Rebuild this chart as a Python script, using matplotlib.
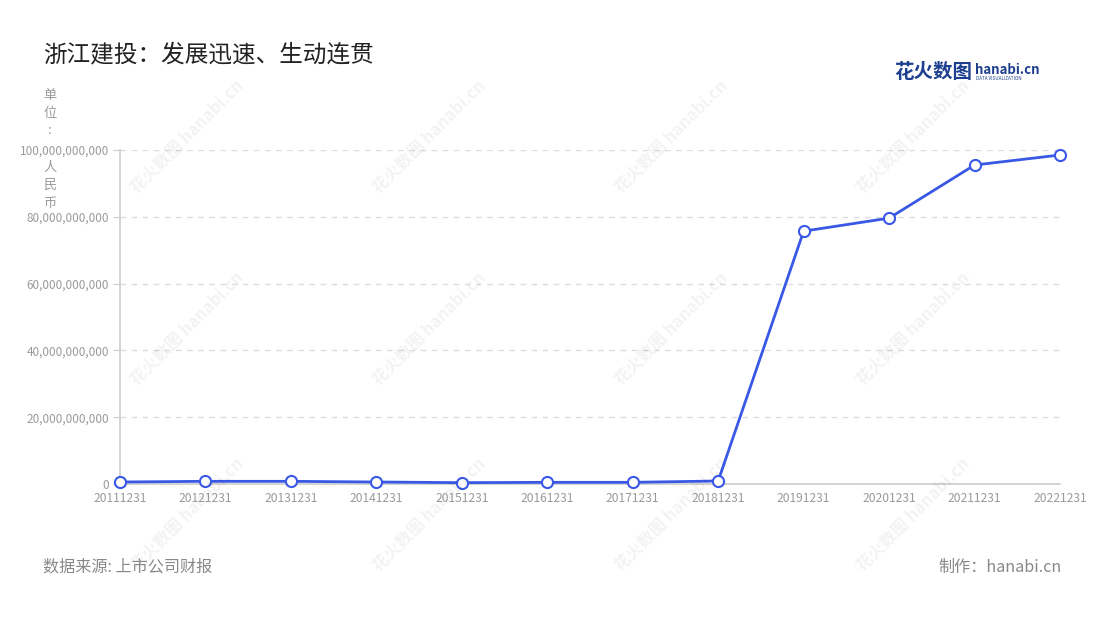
import matplotlib.pyplot as plt
from matplotlib.ticker import FuncFormatter

plt.rcParams['font.family'] = ['Noto Sans CJK SC', 'DejaVu Sans']

dates = ['20111231', '20121231', '20131231', '20141231', '20151231', '20161231',
         '20171231', '20181231', '20191231', '20201231', '20211231', '20221231']
values = [0.6e9, 0.8e9, 0.8e9, 0.6e9, 0.4e9, 0.5e9,
          0.5e9, 0.9e9, 75.7e9, 79.6e9, 95.5e9, 98.5e9]
yticks = [0, 20e9, 40e9, 60e9, 80e9, 100e9]
unit_chars = ['单', '位', ':', '', '人', '民', '币']

line_color = '#3a58e6'
grey = '#9a9a9a'

fig = plt.figure(figsize=(11, 6.2), dpi=100)
ax = fig.add_axes([120 / 1100, 1 - 484 / 620, 940 / 1100, 334 / 620])

# faint watermarks
for wx in [0.17, 0.39, 0.61, 0.83]:
    for wy in [0.78, 0.47, 0.17]:
        fig.text(wx, wy, '花火数图 hanabi.cn', rotation=45, fontsize=12,
                 color='#000000', alpha=0.05, ha='center', va='center',
                 fontweight='bold', zorder=0)

x = list(range(len(dates)))
ax.plot(x, values, color=line_color, lw=2.0, marker='o', markersize=8,
        markerfacecolor='white', markeredgecolor=line_color, markeredgewidth=1.5,
        clip_on=False, zorder=5)

ax.set_xlim(0, len(dates) - 1)
ax.set_ylim(0, 100e9)
ax.set_xticks(x)
ax.set_xticklabels(dates)
ax.set_yticks(yticks)
ax.yaxis.set_major_formatter(FuncFormatter(lambda v, p: f'{int(v):,}'))
ax.tick_params(axis='x', length=0, labelsize=8.7, labelcolor=grey, pad=6)
ax.tick_params(axis='y', length=5, color='#cccccc', labelsize=8.5, labelcolor=grey, pad=3)

ax.grid(axis='y', color='#dddddd', linestyle=(0, (4, 4)), lw=1)
ax.set_axisbelow(True)
for s in ['top', 'right']:
    ax.spines[s].set_visible(False)
ax.spines['left'].set_color('#cccccc')
ax.spines['bottom'].set_color('#cccccc')
ax.spines['left'].set_linewidth(1.2)
ax.spines['bottom'].set_linewidth(1.2)

# y-axis unit label stacked vertically
for i, ch in enumerate(unit_chars):
    fig.text(50 / 1100, 1 - (95 + 18 * i) / 620, ch, fontsize=9.5, color=grey,
             ha='center', va='center')

fig.text(43 / 1100, 1 - 55 / 620, '浙江建投：发展迅速、生动连贯', fontsize=17,
         color='#222222', ha='left', va='center')

fig.text(972 / 1100, 1 - 73 / 620, '花火数图', fontsize=14, color='#1d3f8f',
         ha='right', va='center', fontweight='bold')
fig.text(975 / 1100, 1 - 70 / 620, 'hanabi.cn', fontsize=9.5, color='#1d3f8f',
         ha='left', va='center', fontweight='bold')
fig.text(976 / 1100, 1 - 79 / 620, 'DATA VISUALIZATION', fontsize=3.3, color='#1d3f8f',
         ha='left', va='center')

fig.text(43 / 1100, 1 - 567 / 620, '数据来源: 上市公司财报', fontsize=11.6, color='#888888',
         ha='left', va='center')
fig.text(1062 / 1100, 1 - 567 / 620, '制作：hanabi.cn', fontsize=11.6, color='#888888',
         ha='right', va='center')

fig.savefig('out.png', dpi=100)
